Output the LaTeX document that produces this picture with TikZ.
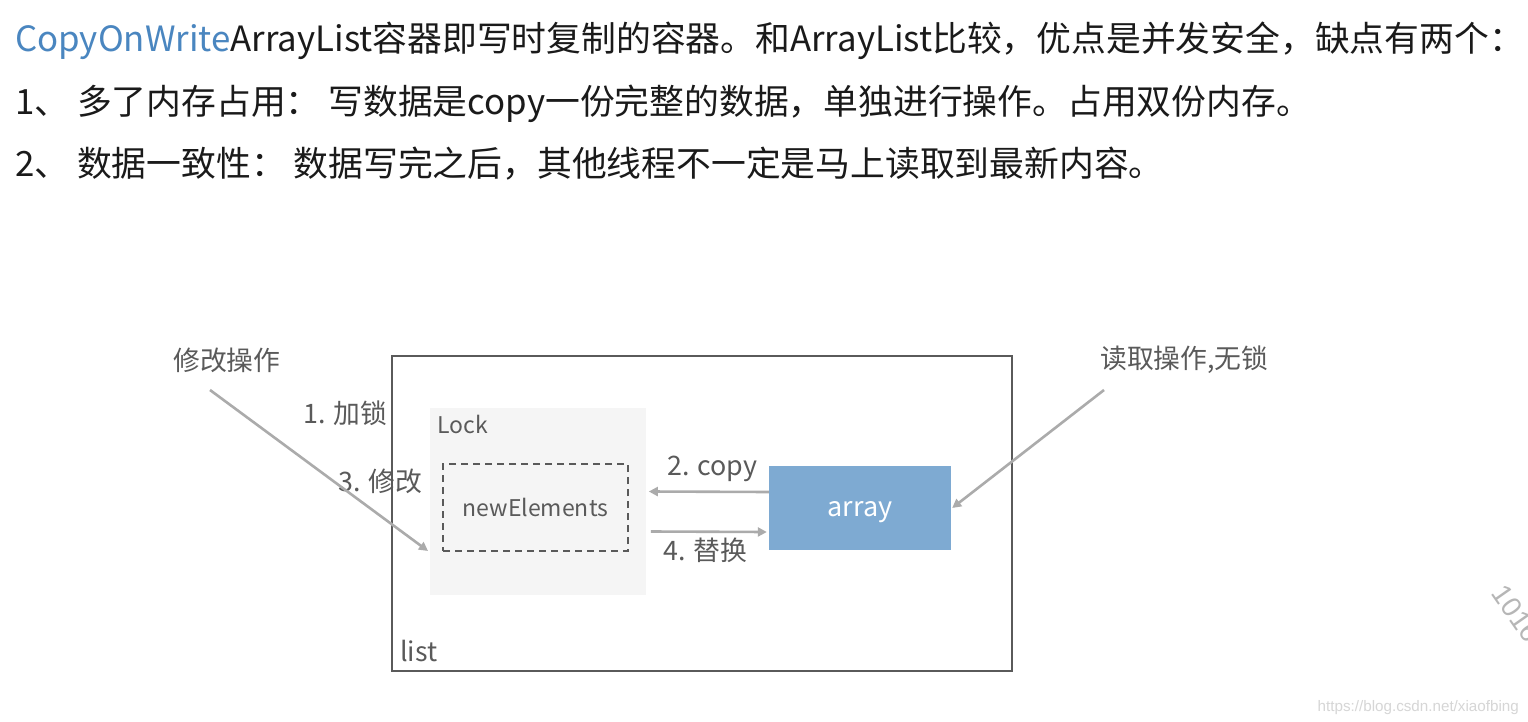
\documentclass[tikz,border=0pt]{standalone}
\usepackage{fontspec}
\setmainfont{Noto Sans CJK SC}
\newfontfamily\wmfont{Liberation Sans}
\usetikzlibrary{arrows.meta,calc}
\definecolor{titleblue}{HTML}{4A86C0}
\definecolor{txt}{HTML}{1A1A1A}
\definecolor{dtxt}{HTML}{5A5A5A}
\definecolor{framec}{HTML}{5A5A5A}
\definecolor{lockfill}{HTML}{F5F5F5}
\definecolor{arrfill}{HTML}{7EAAD2}
\definecolor{arrowc}{HTML}{ABABAB}
\definecolor{wm}{HTML}{D6D6D6}
\tikzset{
  line/.style={anchor=base west, inner sep=0pt, text=txt, font=\fontsize{34.8}{40}\selectfont},
  lbl/.style={inner sep=0pt, text=dtxt, font=\fontsize{26.8}{31}\selectfont},
  conn/.style={draw=arrowc, line width=2.6pt, -{Triangle[length=9pt,width=9pt]}},
}
\begin{document}
\begin{tikzpicture}[x=1pt,y=-1pt]
\useasboundingbox[fill=white] (0,0) rectangle (1528,722);
% header text
\node[line] (t1) at (15,52) {\textcolor{titleblue}{CopyOnWrite}ArrayList容器即写时复制的容器。和ArrayList比较，优点是并发安全，缺点有两个：};
\node[line] (t2) at (15,115) {1、 多了内存占用： 写数据是copy一份完整的数据，单独进行操作。占用双份内存。};
\node[line] (t3) at (15,177) {2、 数据一致性： 数据写完之后，其他线程不一定是马上读取到最新内容。};
% boxes
\node[draw=framec, line width=1.8pt, minimum width=620pt, minimum height=315pt, inner sep=0pt] (list) at (702,513.5) {};
\node[fill=lockfill, minimum width=216pt, minimum height=187pt, inner sep=0pt] (lock) at (538,501.5) {};
\node[draw=framec, dashed, dash pattern=on 7pt off 5pt, line width=1.6pt, minimum width=185pt, minimum height=87pt, inner sep=0pt, text=dtxt, font=\fontsize{23}{28}\selectfont] (newE) at (535.5,507.5) {newElements};
\node[fill=arrfill, minimum width=182pt, minimum height=84pt, inner sep=0pt, text=white, font=\fontsize{27}{32}\selectfont, text depth=0pt, text height=17pt] (array) at (860,508) {array};
% labels
\node[lbl, anchor=base west, font=\fontsize{23}{28}\selectfont] (locklbl) at (437,433) {Lock};
\node[lbl, anchor=base west] (listlbl) at (400,661) {list};
\node[lbl, anchor=base west] (modop) at (173,370) {修改操作};
\node[lbl, anchor=base west] (readop) at (1100,368) {读取操作,无锁};
\node[lbl, anchor=base west] (s1) at (303,423) {1. 加锁};
\node[lbl, anchor=base west] (s3) at (338,491) {3. 修改};
\node[lbl, anchor=base west] (s2) at (667,475) {2. copy};
\node[lbl, anchor=base west] (s4) at (663,560) {4. 替换};
% connectors
\coordinate (modstart) at (210,390);
\coordinate (modend) at (428,551);
\coordinate (readstart) at (1104,390);
\draw[conn] (modstart) -- (modend);
\draw[conn] (readstart) -- ($(array.east)+(1,0)$);
\draw[conn] ($(array.west)+(0,-16)$) -- ($(newE.east)+(20,-16)$);
\draw[conn] ($(newE.east)+(22,24)$) -- ($(array.west)+(-2,24)$);
% watermarks
\node[anchor=north west, inner sep=0pt, rotate=-55, text=wm!85!black, font=\wmfont\fontsize{28}{32}\selectfont] (wm1) at (1507,582) {1016};
\node[anchor=base east, inner sep=0pt, text=wm, font=\wmfont\fontsize{15.2}{18}\selectfont] (wm2) at (1519,711) {https://blog.csdn.net/xiaofbing};
\end{tikzpicture}
\end{document}
